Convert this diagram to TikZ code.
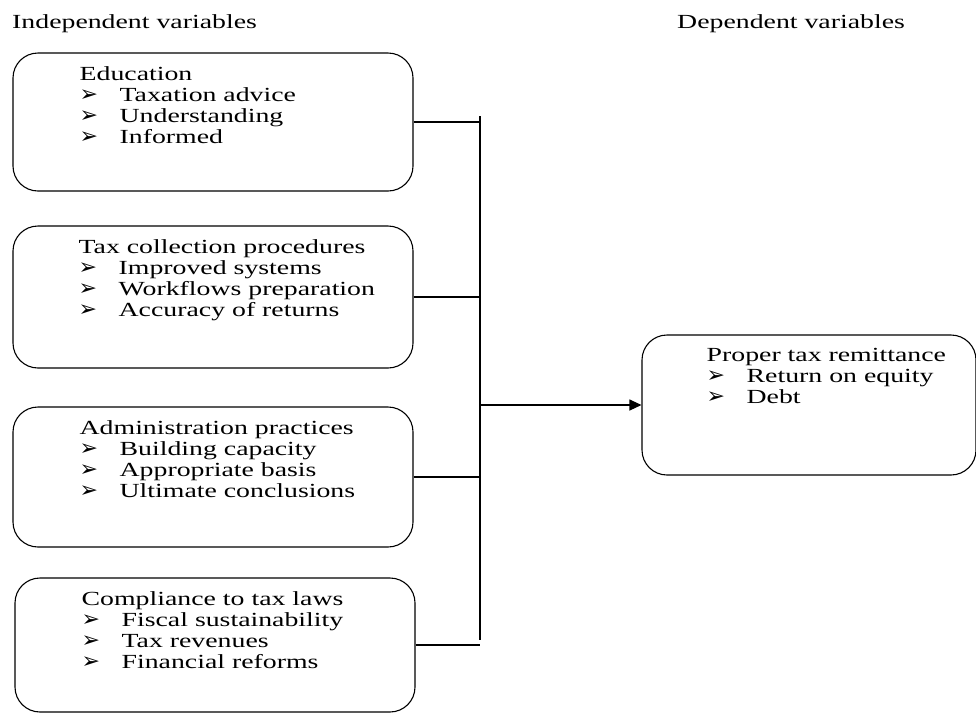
\documentclass[tikz,border=0pt]{standalone}
\usepackage{fontspec}
\setmainfont{Liberation Serif}[FakeStretch=1.39]
\newfontfamily\bulletfont{DejaVu Sans}
\usetikzlibrary{arrows.meta,positioning}
\tikzset{
  varbox/.style={draw, line width=1.1pt, rounded corners=25pt, minimum width=400pt, inner sep=0pt},
  vartext/.style={anchor=north west, align=left, inner sep=0pt, font=\fontsize{20}{21}\selectfont},
  link/.style={line width=1.1pt},
}
\newcommand{\itm}[1]{\makebox[40pt][l]{\bulletfont\fontsize{22}{21}\selectfont ➢}#1}
\begin{document}
\begin{tikzpicture}[x=1pt,y=-1pt]
    \useasboundingbox (0,0) rectangle (976,713);
    %% headings
    \node[vartext, anchor=base west] (indep) at (12,28) {Independent variables};
    \node[vartext, anchor=base west] (dep) at (677,28) {Dependent variables};
    %% independent variables
    \node[varbox, minimum height=138pt] (edu) at (213,122) {};
    \node[vartext] (edutxt) at ([shift={(67,14)}]edu.north west)
        {Education\\ \itm{Taxation advice}\\ \itm{Understanding}\\ \itm{Informed}};
    \node[varbox, minimum height=142pt] (tax) at (213,297) {};
    \node[vartext] (taxtxt) at ([shift={(66,14)}]tax.north west)
        {Tax collection procedures\\ \itm{Improved systems}\\ \itm{Workflows preparation}\\ \itm{Accuracy of returns}};
    \node[varbox, minimum height=140pt] (adm) at (213,477) {};
    \node[vartext] (admtxt) at ([shift={(67,14)}]adm.north west)
        {Administration practices\\ \itm{Building capacity}\\ \itm{Appropriate basis}\\ \itm{Ultimate conclusions}};
    \node[varbox, minimum height=134pt] (comp) at (215,645) {};
    \node[vartext] (comptxt) at ([shift={(67,14)}]comp.north west)
        {Compliance to tax laws\\ \itm{Fiscal sustainability}\\ \itm{Tax revenues}\\ \itm{Financial reforms}};
    %% dependent variable
    \node[varbox, minimum width=334pt, minimum height=140pt] (rem) at (809,405) {};
    \node[vartext] (remtxt) at ([shift={(65,14)}]rem.north west)
        {Proper tax remittance\\ \itm{Return on equity}\\ \itm{Debt}};
    %% connectors
    \coordinate (bustop) at (480,116);
    \coordinate (busbot) at (480,640);
    \draw[link] (bustop) -- (busbot);
    \foreach \v in {edu,tax,adm,comp}
        \draw[link] (\v.east) -- (\v.east -| bustop);
    \draw[link, -{Triangle[length=12pt,width=11pt]}] (rem.west -| bustop) -- (rem.west);
\end{tikzpicture}
\end{document}
